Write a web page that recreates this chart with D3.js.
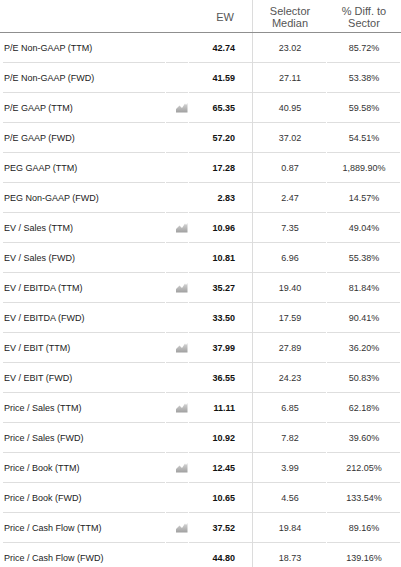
<!DOCTYPE html>
<html><head><meta charset="utf-8">
<script src="https://cdn.jsdelivr.net/npm/d3@7"></script>
<style>
html,body{margin:0;padding:0;background:#fff;}
svg{display:block;}
svg text{font-family:Arial,"Liberation Sans",Helvetica,sans-serif;}
</style></head>
<body>
<svg id="c" width="401" height="567"></svg>
<script>
const labels = ["P/E Non-GAAP (TTM)","P/E Non-GAAP (FWD)","P/E GAAP (TTM)","P/E GAAP (FWD)","PEG GAAP (TTM)","PEG Non-GAAP (FWD)","EV / Sales (TTM)","EV / Sales (FWD)","EV / EBITDA (TTM)","EV / EBITDA (FWD)","EV / EBIT (TTM)","EV / EBIT (FWD)","Price / Sales (TTM)","Price / Sales (FWD)","Price / Book (TTM)","Price / Book (FWD)","Price / Cash Flow (TTM)","Price / Cash Flow (FWD)"];
const ewValues = ["42.74","41.59","65.35","57.20","17.28","2.83","10.96","10.81","35.27","33.50","37.99","36.55","11.11","10.92","12.45","10.65","37.52","44.80"];
const medianValues = ["23.02","27.11","40.95","37.02","0.87","2.47","7.35","6.96","19.40","17.59","27.89","24.23","6.85","7.82","3.99","4.56","19.84","18.73"];
const diffValues = ["85.72%","53.38%","59.58%","54.51%","1,889.90%","14.57%","49.04%","55.38%","81.84%","90.41%","36.20%","50.83%","62.18%","39.60%","212.05%","133.54%","89.16%","139.16%"];
const hasChart = [false,false,true,false,false,false,true,false,true,false,true,false,true,false,true,false,true,false];
const headers = [["EW"],["Selector","Median"],["% Diff. to","Sector"]];

const svg = d3.select("#c");
const y = d3.scaleBand().domain(labels).range([32, 32 + 30*labels.length]);

const defs = svg.append("defs");
const g = defs.append("linearGradient").attr("id","ig").attr("x1",0).attr("y1",0).attr("x2",0).attr("y2",1);
g.append("stop").attr("offset","0%").attr("stop-color","#d8d8d8");
g.append("stop").attr("offset","100%").attr("stop-color","#a0a0a0");

svg.append("line").attr("x1",252.5).attr("x2",252.5).attr("y1",0).attr("y2",567)
  .attr("stroke","#dcdcdc").attr("stroke-width",1);

const hx = [225, 290, 364];
headers.forEach((lines,i)=>{
  const t = svg.append("text").attr("text-anchor","middle").attr("font-size",11).attr("fill","#555");
  if(lines.length===1){
    t.append("tspan").attr("x",hx[i]).attr("y",21).text(lines[0]);
  } else {
    t.append("tspan").attr("x",hx[i]).attr("y",15).text(lines[0]);
    t.append("tspan").attr("x",hx[i]).attr("y",27).text(lines[1]);
  }
});
svg.append("line").attr("x1",0).attr("x2",401).attr("y1",32.5).attr("y2",32.5)
  .attr("stroke","#8f8f8f").attr("stroke-width",1);

const segs = [[3,165],[166,188],[189,252],[253,326],[327,400]];
labels.slice(0,-1).forEach(l=>{
  const yy = y(l) + y.bandwidth() + 0.5;
  segs.forEach(s=>{
    svg.append("line").attr("x1",s[0]).attr("x2",s[1]).attr("y1",yy).attr("y2",yy)
      .attr("stroke","#dedede").attr("stroke-width",1);
  });
});

const rows = svg.selectAll("g.row").data(labels).join("g").attr("class","row")
  .attr("transform",d=>`translate(0,${y(d)+y.bandwidth()/2})`);

rows.append("text").attr("x",4).attr("y",3.5).attr("font-size",9).attr("fill","#222").text(d=>d);
rows.append("text").attr("x",235).attr("y",3.5).attr("text-anchor","end").attr("font-size",9)
  .attr("font-weight","bold").attr("fill","#111").text((d,i)=>ewValues[i]);
rows.append("text").attr("x",290).attr("y",3.5).attr("text-anchor","middle").attr("font-size",9)
  .attr("fill","#333").text((d,i)=>medianValues[i]);
rows.append("text").attr("x",364).attr("y",3.5).attr("text-anchor","middle").attr("font-size",9)
  .attr("fill","#333").text((d,i)=>diffValues[i]);

rows.filter((d,i)=>hasChart[i]).append("path")
  .attr("transform","translate(176,-4)")
  .attr("d","M0,9.5 L0,6 L3.5,2.5 L6,5 L9,0.5 L10,2 L11.5,0 L11.5,9.5 Z")
  .attr("fill","url(#ig)");
</script>
</body></html>
